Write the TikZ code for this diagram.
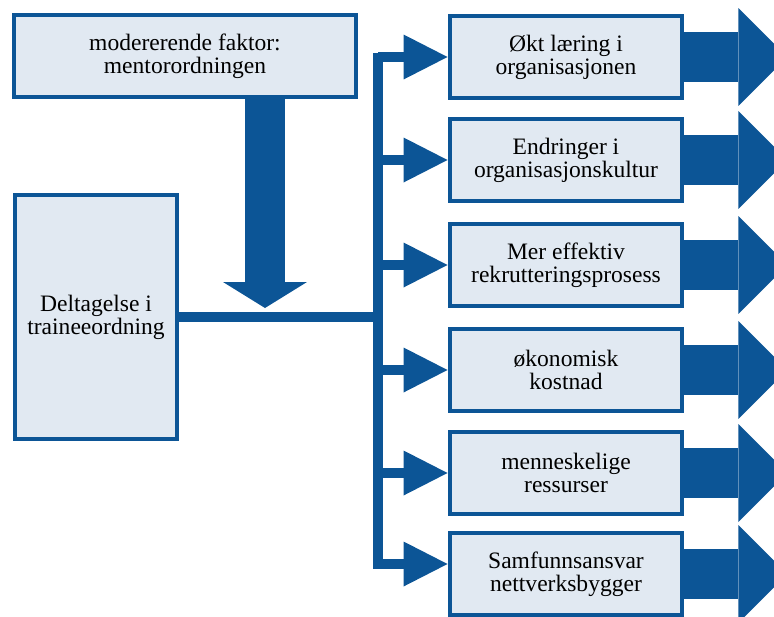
\documentclass[tikz,border=0pt]{standalone}
\usepackage{fontspec}
\setmainfont{Liberation Serif}
\usetikzlibrary{arrows.meta,calc}
\definecolor{barblue}{RGB}{12,85,150}
\definecolor{boxfill}{RGB}{225,233,242}
\begin{document}
\begin{tikzpicture}[
    x=0.02cm, y=-0.02cm,
    box/.style={draw=barblue, fill=boxfill, line width=0.08cm, align=center,
      inner sep=2pt, font=\rmfamily\fontsize{13.4}{13.2}\selectfont},
    smallbox/.style={box, minimum width=4.66cm, minimum height=1.64cm},
    trunk/.style={draw=barblue, line width=0.2cm},
    branch/.style={trunk, -{Triangle[length=0.88cm,width=0.9cm,line width=0pt]}},
    fatdown/.style={draw=barblue, line width=0.8cm, -{Triangle[length=0.52cm,width=1.68cm,line width=0pt]}},
    fatright/.style={draw=barblue, line width=1cm, -{Triangle[length=0.98cm,width=1.96cm,line width=0pt]}}
    ]
  \useasboundingbox (0,0) rectangle (774,616);
  % inputs
  \node [box, minimum width=6.84cm, minimum height=1.64cm] (mod) at (185,56)
    {modererende faktor:\\mentorordningen};
  \node [box, minimum width=3.24cm, minimum height=4.88cm] (part) at (96,317)
    {Deltagelse i\\traineeordning};
  % outcomes
  \foreach \name/\y/\txt in {b1/57/{Økt læring i\\organisasjonen},
      b2/160/{Endringer i\\organisasjonskultur},
      b3/265/{Mer effektiv\\rekrutteringsprosess},
      b4/370/{økonomisk\\kostnad},
      b5/473/{menneskelige\\ressurser},
      b6/574/{Samfunnsansvar\\nettverksbygger}}
    \node [smallbox] (\name) at (566,\y) {\txt};
  % trunk and branches
  \coordinate (tr) at (378,0);
  \coordinate (top) at (378,58);
  \coordinate (bot) at (378,564);
  \draw [trunk, line cap=rect] (top) -- (bot);
  \draw [trunk] (part.east) -- (part.east -| tr);
  \foreach \name in {b1,b2,b3,b4,b5}
    \draw [branch] (\name.west -| tr) -- (\name.west);
  \draw [branch] (bot) -- (bot -| b6.west);
  % moderator
  \coordinate (tip) at (265,308);
  \draw [fatdown] (mod.south -| tip) -- (tip);
  % outgoing arrows
  \foreach \name in {b1,b2,b3,b4,b5,b6}
    \draw [fatright] (\name.east) -- ++(103,0);
\end{tikzpicture}
\end{document}
